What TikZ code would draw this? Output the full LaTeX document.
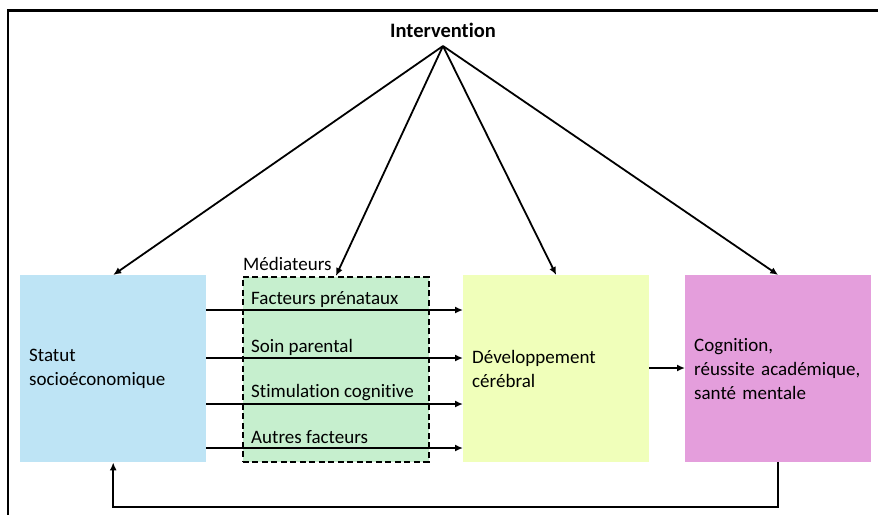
\documentclass[tikz,border=0pt]{standalone}
\usepackage{fontspec}
\setmainfont{Carlito}[Ligatures={NoCommon}]
\usetikzlibrary{arrows.meta,calc}
\definecolor{sesblue}{RGB}{190,228,245}
\definecolor{medgreen}{RGB}{198,239,206}
\definecolor{devyellow}{RGB}{240,255,186}
\definecolor{cogpink}{RGB}{228,158,220}
\tikzset{
  box/.style={draw=none, minimum width=186pt, minimum height=187pt, inner xsep=9pt, inner ysep=0pt,
    text width=168pt, align=left, font=\fontsize{19}{24}\selectfont, anchor=north west},
  medlabel/.style={anchor=west, inner sep=0pt, font=\fontsize{19}{22}\selectfont},
  arr/.style={-{Latex[length=8pt,width=7pt]}, line width=1.8pt},
}
\begin{document}
\begin{tikzpicture}[x=1pt,y=-1pt]
\useasboundingbox (0,0) rectangle (879,515);
\draw[line width=2.2pt] (878,10.5) -- (8,10.5) -- (8,515);
\node[font=\bfseries\fontsize{20.5}{22}\selectfont] (int) at (443,30) {Intervention};
\coordinate (apex) at (443,46);
\node[box, fill=sesblue] (ses) at (20,275) {Statut\\socioéconomique};
\node[box, fill=medgreen, draw=black, dashed, line width=1.8pt, dash pattern=on 6pt off 3.5pt, minimum width=185pt, minimum height=185pt] (med) at (242,276) {};
\node[box, fill=devyellow] (dev) at (463,275) {Développement\\cérébral};
\node[box, fill=cogpink] (cog) at (685,275) {Cognition,\\réussite académique,\\santé mentale};
\node[medlabel, anchor=south west] (medt) at (243,271) {Médiateurs};
\node[medlabel] (m1) at (251,300) {Facteurs prénataux};
\node[medlabel] (m2) at (251,347) {Soin parental};
\node[medlabel] (m3) at (251,393) {Stimulation cognitive};
\node[medlabel] (m4) at (251,437) {Autres facteurs};
\coordinate (y1) at (0,310);
\coordinate (y2) at (0,358);
\coordinate (y3) at (0,404);
\coordinate (y4) at (0,448);
\foreach \c in {y1,y2,y3,y4}{
  \draw[arr] (ses.east |- \c) -- (dev.west |- \c);
}
\coordinate (y5) at (0,368);
\draw[arr] (dev.east |- y5) -- (cog.west |- y5);
\foreach \t in {ses,med,dev,cog}{
  \draw[arr] (apex) -- (\t.north);
}
\coordinate (fb) at (0,507);
\draw[arr] (cog.south) -- (cog.south |- fb) -| (ses.south);
\end{tikzpicture}
\end{document}
